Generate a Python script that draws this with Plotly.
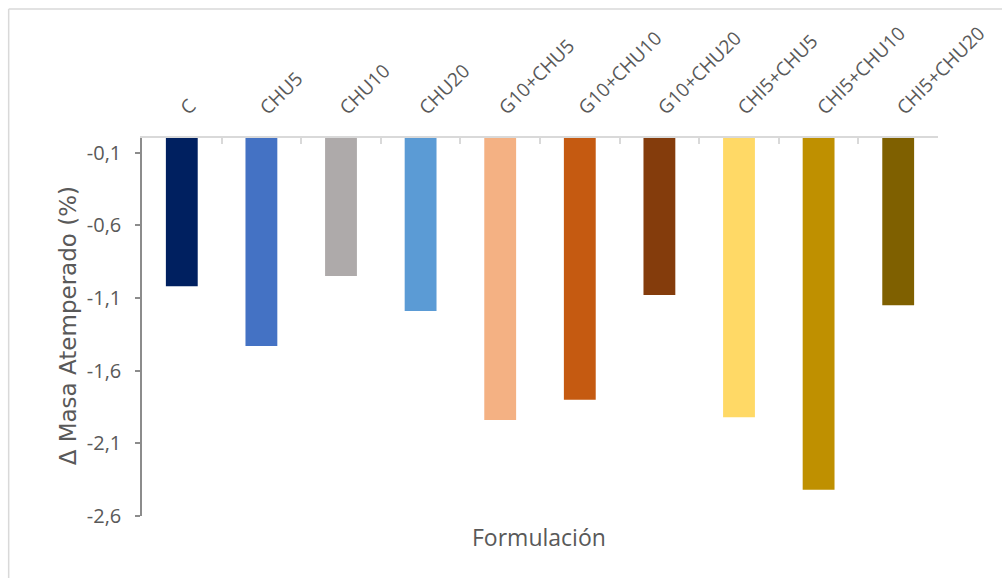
import plotly.graph_objects as go

formulaciones = ["C", "CHU5", "CHU10", "CHU20", "G10+CHU5", "G10+CHU10",
                 "G10+CHU20", "CHI5+CHU5", "CHI5+CHU10", "CHI5+CHU20"]
delta_masa = [-1.02, -1.43, -0.95, -1.19, -1.94, -1.80, -1.08, -1.92, -2.42, -1.15]
colores = ["#002060", "#4472C4", "#AEAAAA", "#5B9BD5", "#F4B183", "#C55A11",
           "#843C0C", "#FFD966", "#BF9000", "#7F6000"]
y_ticks = [-0.1, -0.6, -1.1, -1.6, -2.1, -2.6]
y_tick_text = ["-0,1", "-0,6", "-1,1", "-1,6", "-2,1", "-2,6"]

W, H = 1002, 578
L, R, T, B = 142, 60, 138, 62
pw, ph = W - L - R, H - T - B

def px_x(x):
    return (x - L) / pw

def px_y(y):
    return 1 - (y - T) / ph

fig = go.Figure(go.Bar(
    x=formulaciones,
    y=delta_masa,
    marker=dict(color=colores, line=dict(width=0)),
    width=0.4,
))

x_tick_font = dict(family="Open Sans", size=19, color="#595959")
y_tick_font = dict(family="Open Sans", size=20, color="#595959")

fig.update_layout(
    width=W, height=H,
    margin=dict(l=L, r=R, t=T, b=B),
    paper_bgcolor="white",
    plot_bgcolor="white",
    showlegend=False,
    xaxis=dict(
        side="top",
        type="category",
        showline=True, linecolor="#D9D9D9", linewidth=1.5,
        ticks="inside", ticklen=6, tickcolor="#D9D9D9", tickwidth=1.5,
        tickson="boundaries",
        tickangle=-45,
        tickfont=x_tick_font,
        ticklabelstandoff=10,
        showgrid=False, zeroline=False,
    ),
    yaxis=dict(
        range=[-2.6, 0],
        tickvals=y_ticks,
        ticktext=y_tick_text,
        showline=True, linecolor="#8C8C8C", linewidth=1.5,
        ticks="outside", ticklen=5, tickcolor="#8C8C8C", tickwidth=1.5,
        tickfont=y_tick_font,
        ticklabelstandoff=10,
        showgrid=False, zeroline=False,
    ),
    annotations=[
        dict(text="Δ Masa Atemperado (%)", textangle=-90,
             x=px_x(68), y=px_y(326), xref="paper", yref="paper",
             xanchor="center", yanchor="middle", showarrow=False,
             font=dict(family="DejaVu Sans", size=23, color="#595959")),
        dict(text="Formulación",
             x=px_x(541), y=px_y(537), xref="paper", yref="paper",
             xanchor="center", yanchor="middle", showarrow=False,
             font=dict(family="Open Sans", size=23, color="#595959")),
    ],
    shapes=[
        dict(type="line", xref="paper", yref="paper",
             x0=px_x(8), x1=px_x(1010), y0=px_y(9), y1=px_y(9),
             line=dict(color="#D9D9D9", width=1.5)),
        dict(type="line", xref="paper", yref="paper",
             x0=px_x(8), x1=px_x(8), y0=px_y(9), y1=px_y(590),
             line=dict(color="#D9D9D9", width=1.5)),
    ],
)

fig.write_html("out.html")
